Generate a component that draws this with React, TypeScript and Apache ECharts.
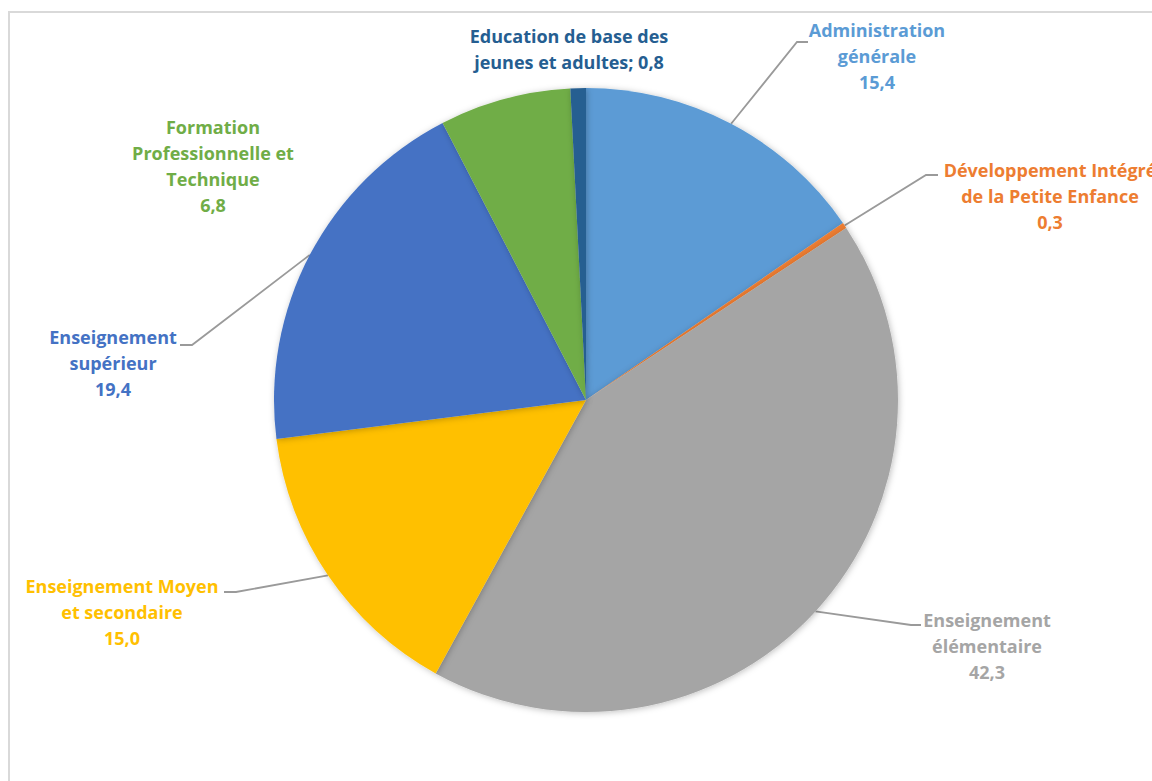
import React, { useEffect, useRef } from "react";
import * as echarts from "echarts";

const categories = [
  "Administration\ngénérale",
  "Développement Intégré\nde la Petite Enfance",
  "Enseignement\nélémentaire",
  "Enseignement Moyen\net secondaire",
  "Enseignement\nsupérieur",
  "Formation\nProfessionnelle et\nTechnique",
  "Education de base des\njeunes et adultes",
];
const values = [15.4, 0.3, 42.3, 15.0, 19.4, 6.8, 0.8];
const colors = ["#5B9BD5", "#ED7D31", "#A5A5A5", "#FFC000", "#4472C4", "#70AD47", "#255E91"];
const labelColors = ["#5B9BD5", "#ED7D31", "#A5A5A5", "#FFC000", "#4472C4", "#70AD47", "#255E91"];
const inlineValue = [false, false, false, false, false, false, true];
const showLine = [true, true, true, true, true, false, false];

// label anchor positions (centre x, top y) and leader elbow/end points
const labelPos: number[][] = [
  [877, 17],
  [1050, 157],
  [987, 607],
  [122, 573],
  [113, 324],
  [213, 114],
  [569, 23],
];
const lineElbow: number[][] = [
  [797, 42], [926, 175], [911, 625], [236, 592], [192, 345], [0, 0], [0, 0],
];
const lineEnd: number[][] = [
  [808, 42], [938, 175], [921, 625], [224, 592], [180, 345], [0, 0], [0, 0],
];

export default function App() {
  const ref = useRef<HTMLDivElement>(null);
  useEffect(() => {
    const chart = echarts.init(ref.current!, null, { renderer: "svg" });
    const data = categories.map((name, i) => ({
      name,
      value: values[i],
      itemStyle: { color: colors[i] },
      label: { color: labelColors[i] },
      labelLine: { show: showLine[i] },
    }));
    chart.setOption({
      animation: false,
      backgroundColor: "#ffffff",
      graphic: [
        {
          type: "rect",
          shape: { x: 9, y: 12, width: 1300, height: 900 },
          style: { fill: "none", stroke: "#d9d9d9", lineWidth: 2 },
          silent: true,
          z: -1,
        },
      ],
      series: [
        {
          type: "pie",
          center: [586, 400],
          radius: 312,
          startAngle: 90,
          clockwise: true,
          data,
          itemStyle: {
            shadowBlur: 6,
            shadowColor: "rgba(0,0,0,0.25)",
            shadowOffsetX: 1,
            shadowOffsetY: 1,
          },
          label: {
            show: true,
            position: "outside",
            fontFamily: "Open Sans",
            fontWeight: "bold",
            fontSize: 18,
            lineHeight: 26,
            align: "center",
            formatter: (p: any) => {
              const v = p.value.toFixed(1).replace(".", ",");
              return inlineValue[p.dataIndex] ? `${p.name}; ${v}` : `${p.name}\n${v}`;
            },
          },
          labelLine: {
            show: true,
            lineStyle: { color: "#9a9a9a", width: 1.8 },
            length: 20,
            length2: 10,
          },
          labelLayout: (params: any) => {
            const i = params.dataIndex;
            const res: any = {
              x: labelPos[i][0],
              y: labelPos[i][1],
              align: "center",
              verticalAlign: "top",
            };
            if (showLine[i] && params.labelLinePoints) {
              res.labelLinePoints = [params.labelLinePoints[0], lineElbow[i], lineEnd[i]];
            }
            return res;
          },
        },
      ],
    });
    return () => chart.dispose();
  }, []);
  return (
    <div
      ref={ref}
      style={{ position: "absolute", left: 0, top: 0, width: 1152, height: 781 }}
    />
  );
}
